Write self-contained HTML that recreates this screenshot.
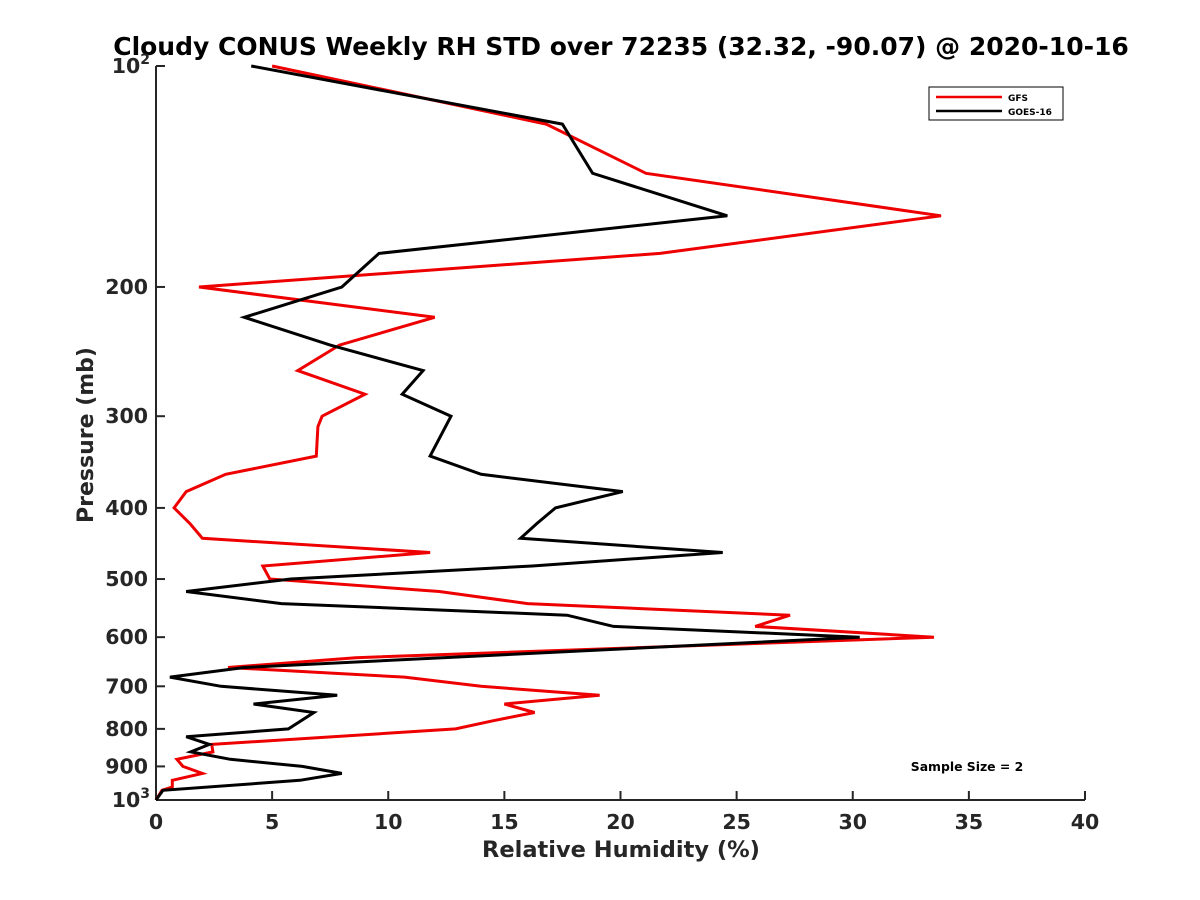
<!DOCTYPE html>
<html><head><meta charset="utf-8"><style>
body{margin:0;background:#fff;}
svg{display:block;font-family:"DejaVu Sans","Liberation Sans",sans-serif;}
</style></head><body>
<svg id="chart" width="1200" height="900" viewBox="0 0 1200 900">
<rect width="1200" height="900" fill="#fff"/>
<text x="621" y="55" text-anchor="middle" font-size="25" font-weight="bold" fill="#000">Cloudy CONUS Weekly RH STD over 72235 (32.32, -90.07) @ 2020-10-16</text>
<g id="axes"></g>
<g id="series"></g>
<g>
<rect x="929" y="87" width="134" height="33" fill="#fff" stroke="#000" stroke-width="1"/>
<line x1="936" y1="97" x2="1002" y2="97" stroke="#e00" stroke-width="2.5"/>
<text x="1008" y="101" font-size="9" font-weight="bold">GFS</text>
<line x1="936" y1="111" x2="1002" y2="111" stroke="#000" stroke-width="2.5"/>
<text x="1008" y="115" font-size="9" font-weight="bold">GOES-16</text>
</g>
<text x="967" y="771" text-anchor="middle" font-size="12.4" font-weight="bold">Sample Size = 2</text>
<text x="621" y="857" text-anchor="middle" font-size="22.5" font-weight="bold" fill="#262626">Relative Humidity (%)</text>
<text transform="translate(93,435) rotate(-90)" text-anchor="middle" font-size="22" font-weight="bold" fill="#262626">Pressure (mb)</text>
</svg>
<script>
const xTicks=[0,5,10,15,20,25,30,35,40];
const yTicks=[100,200,300,400,500,600,700,800,900,1000];
const gfsP=[100,120,140,160,180,200,220,240,260,280,300,310,340,360,380,400,420,440,460,480,500,520,540,560,580,600,640,660,680,700,720,740,760,780,800,840,860,880,900,920,940,960,970,1000];
const gfsRH=[5.0,16.8,21.1,33.8,21.7,1.85,12.0,7.9,6.1,9.0,7.15,6.97,6.9,3.0,1.3,0.78,1.46,2.0,11.8,4.6,4.9,12.2,16.0,27.3,25.8,33.5,8.6,3.1,10.7,14.0,19.1,15.0,16.3,14.5,12.9,2.4,2.45,0.9,1.16,2.0,0.7,0.7,0.26,0];
const goesP=[100,120,140,160,180,200,220,240,260,280,300,340,360,380,400,420,440,460,480,500,520,540,560,580,600,660,680,700,720,740,760,800,820,840,860,880,900,920,940,970,1000];
const goesRH=[4.1,17.5,18.8,24.6,9.6,8.0,3.8,7.5,11.5,10.6,12.7,11.8,14.0,20.1,17.2,16.4,15.7,24.4,16.2,5.8,1.3,5.4,17.7,19.7,30.3,3.8,0.6,2.8,7.8,4.2,6.8,5.7,1.3,2.3,1.5,3.2,6.3,8.0,6.2,0.3,0];
const X0=156,X1=1085,Y0=66,Y1=800;
const xs=v=>X0+(v-0)/(40-0)*(X1-X0);
const ys=p=>Y0+Math.log10(p/100)*(Y1-Y0);
const NS='http://www.w3.org/2000/svg';
function mk(t,a,parent){const e=document.createElementNS(NS,t);for(const k in a)e.setAttribute(k,a[k]);parent.appendChild(e);return e;}
const ax=document.getElementById('axes');
const yl=mk('line',{x1:X0,y1:Y0,x2:X0,y2:Y1,stroke:'#262626','stroke-width':2},ax);


const xl=mk('line',{x1:X0,y1:Y1,x2:X1,y2:Y1,stroke:'#262626','stroke-width':2},ax);


xTicks.forEach(v=>{
  const t=mk('line',{x1:xs(v),y1:Y1,x2:xs(v),y2:Y1-9,stroke:'#262626','stroke-width':2},ax);
  
  
  const l=mk('text',{x:xs(v),y:Y1+29,'text-anchor':'middle','font-size':20.5,'font-weight':'bold',fill:'#262626'},ax);
  l.textContent=v;
  
  
});
yTicks.forEach(p=>{
  const t=mk('line',{x1:X0,y1:ys(p),x2:X0+9,y2:ys(p),stroke:'#262626','stroke-width':2},ax);
  
  
  const l=mk('text',{x:X0-8,y:ys(p)+7,'text-anchor':'end','font-size':20.5,'font-weight':'bold',fill:'#262626'},ax);
  if(p===100||p===1000){
    l.textContent='10';
    const s=mk('tspan',{dy:-9,'font-size':14},l);s.textContent=p===100?'2':'3';
    l.setAttribute('x',X0-6);
  } else l.textContent=p;
  
  
});
const sg=document.getElementById('series');
function line(P,V,col,name){
  const d=P.map((p,i)=>(i?'L':'M')+xs(V[i]).toFixed(1)+' '+ys(p).toFixed(1)).join(' ');
  const e=mk('path',{d:d,fill:'none',stroke:col,'stroke-width':3,'stroke-linejoin':'miter'},sg);
  
  
}
line(gfsP,gfsRH,'#e00','gfs-line');
line(goesP,goesRH,'#000','goes16-line');
</script>
</body></html>
